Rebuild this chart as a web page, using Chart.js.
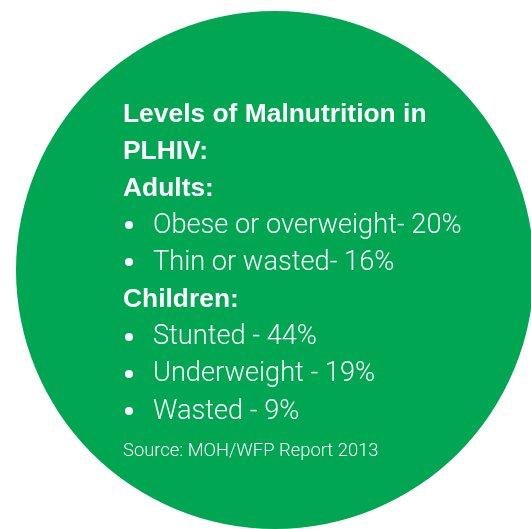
<!DOCTYPE html>
<html>
<head>
<meta charset="utf-8">
<script src="https://cdn.jsdelivr.net/npm/chart.js@4.4.0/dist/chart.umd.min.js"></script>
<style>
    html, body { margin: 0; padding: 0; background: #fff; overflow: hidden; }
    #wrap { position: relative; width: 531px; height: 529px; overflow: hidden; }
    #circle { position: absolute; left: 0; top: 0; }
    .line { position: absolute; left: 123px; color: #fff; white-space: nowrap; }
    .head { font-family: 'Liberation Sans', Arial, sans-serif; font-weight: bold; font-size: 26.4px; line-height: 26px; }
    .item { font-family: 'Roboto', sans-serif; font-weight: 300; font-size: 27.2px; line-height: 26px; left: 153px; }
    .source { font-family: 'Roboto', sans-serif; font-weight: 300; font-size: 18.4px; line-height: 18px; }
    .dot { position: absolute; left: 125px; width: 8px; height: 8px; border-radius: 50%; background: #fff; }
</style>
</head>
<body>
<div id="wrap">
    <canvas id="circle" width="560" height="529"></canvas>
</div>
<script>
const titleLines = ['Levels of Malnutrition in', 'PLHIV:'];
const groupLabels = ['Adults:', 'Children:'];
const adultLabels = ['Obese or overweight-', 'Thin or wasted-'];
const adultValues = [20, 16];
const childLabels = ['Stunted -', 'Underweight -', 'Wasted -'];
const childValues = [44, 19, 9];
const sourceText = 'Source: MOH/WFP Report 2013';

// the green disc is a single pie slice
const circle = document.getElementById('circle');

new Chart(circle, {
    type: 'pie',
    data: {
        labels: ['PLHIV'],
        datasets: [{
            data: [100],
            backgroundColor: ['#00a651'],
            borderWidth: 0
        }]
    },
    options: {
        responsive: false,
        animation: false,
        layout: {
            padding: { left: 16, right: 26, top: 11, bottom: 0 }
        },
        plugins: {
            legend: { display: false },
            tooltip: { enabled: false }
        }
    }
});

// text lines, laid out by baseline
const rows = [];
titleLines.forEach(t => rows.push({ cls: 'head', text: t }));
rows.push({ cls: 'head', text: groupLabels[0] });
adultLabels.forEach((l, i) => rows.push({ cls: 'item', text: l + ' ' + adultValues[i] + '%' }));
rows.push({ cls: 'head', text: groupLabels[1] });
childLabels.forEach((l, i) => rows.push({ cls: 'item', text: l + ' ' + childValues[i] + '%' }));
rows.push({ cls: 'source', text: sourceText });

const wrap = document.getElementById('wrap');
rows.forEach((r, i) => {
    const baseline = 122 + i * 37.1;
    const el = document.createElement('div');
    el.className = 'line ' + r.cls;
    el.textContent = r.text;
    const lh = r.cls === 'source' ? 18 : 26;
    const fs = r.cls === 'source' ? 18.4 : (r.cls === 'head' ? 26.4 : 27.2);
    const k = r.cls === 'head' ? 0.3465 : 0.3415;
    el.style.top = (baseline - (lh / 2 + k * fs)) + 'px';
    wrap.appendChild(el);
    if (r.cls === 'item') {
        const dot = document.createElement('div');
        dot.className = 'dot';
        dot.style.top = (baseline - 12) + 'px';
        wrap.appendChild(dot);
    }
});
</script>
</body>
</html>
